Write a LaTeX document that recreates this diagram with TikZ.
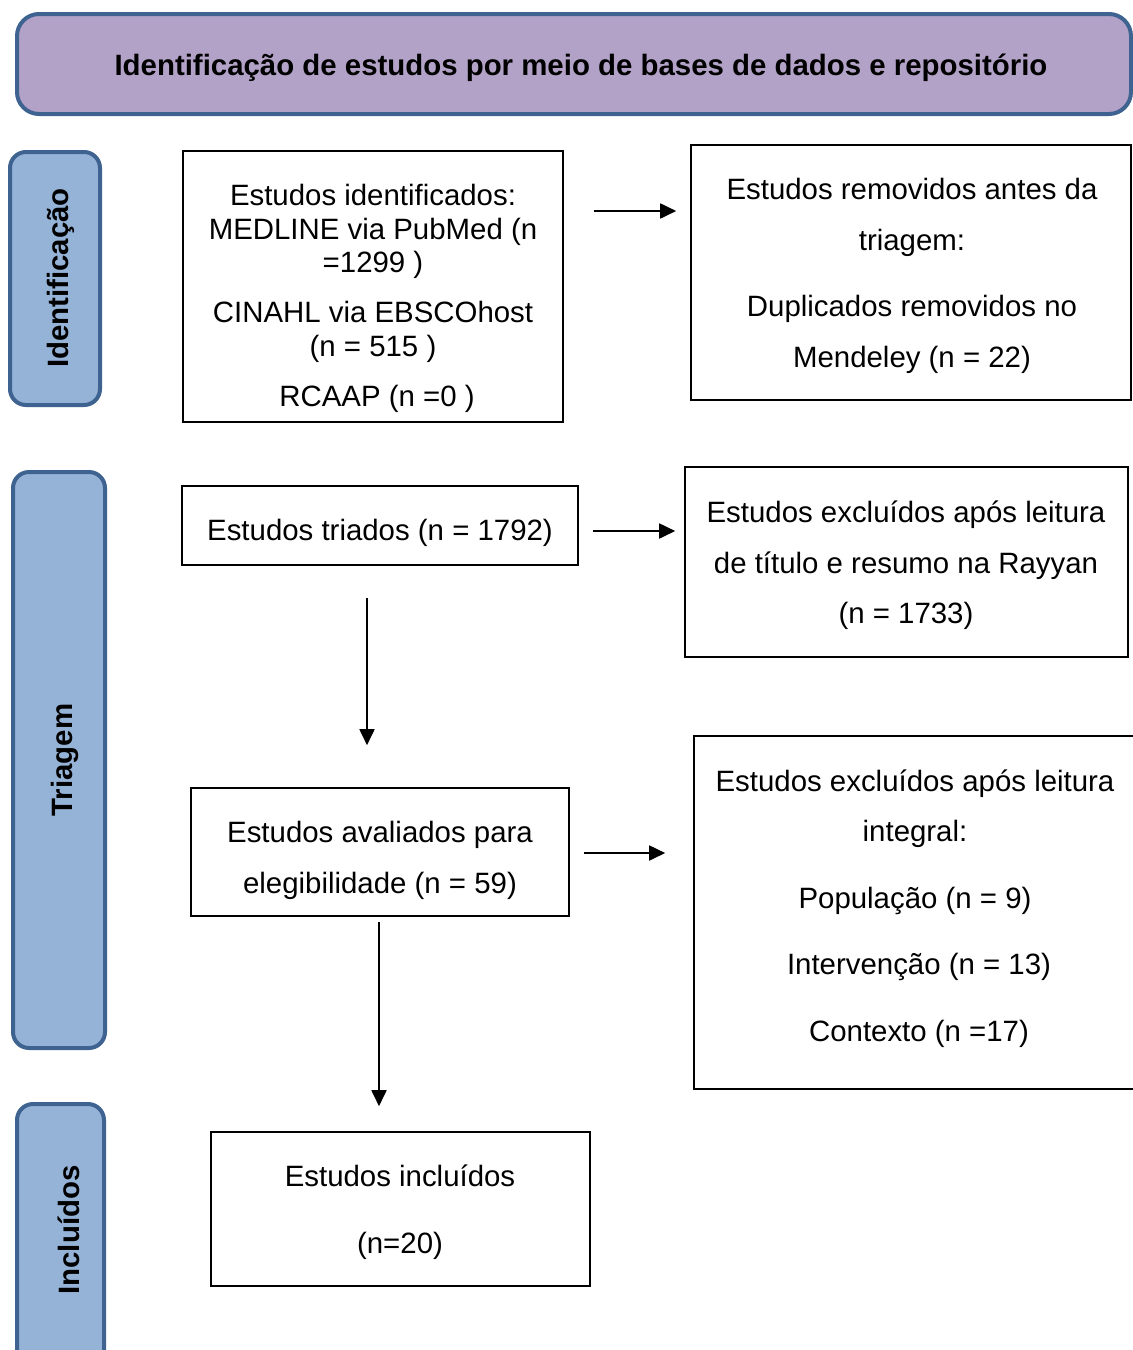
\documentclass[tikz,border=0pt]{standalone}
\usepackage{fontspec}
\setmainfont{Liberation Sans}
\usetikzlibrary{arrows.meta}
\definecolor{purp}{HTML}{B3A2C7}
\definecolor{blu}{HTML}{95B3D7}
\definecolor{edgeblue}{HTML}{3F6391}
\begin{document}
\begin{tikzpicture}[x=1pt,y=-1pt,
  box/.style={draw=black,line width=1.6pt,inner sep=0pt},
  lab/.style={draw=edgeblue,fill=blu,line width=4pt,rounded corners=16pt,inner sep=0pt},
  ban/.style={draw=edgeblue,fill=purp,line width=4pt,rounded corners=22pt,inner sep=0pt},
  txt/.style={font=\fontsize{29.4}{34}\selectfont,inner sep=0pt,anchor=base},
  labtxt/.style={font=\fontsize{29.4}{34}\selectfont\bfseries,inner sep=0pt,rotate=90},
  arr/.style={line width=1.8pt,-{Triangle[length=16pt,width=15pt]}}]
\useasboundingbox (0,0) rectangle (1133,1350);
\clip (0,0) rectangle (1133,1350);
% banner
\node[ban,minimum width=1114pt,minimum height=100pt] (ban) at (574,64) {};
\node[txt,font=\fontsize{29.4}{34}\selectfont\bfseries] (bant) at (581,75) {Identificação de estudos por meio de bases de dados e repositório};
% side labels
\node[lab,minimum width=90pt,minimum height=253pt] (L1) at (55,278.5) {};
\node[labtxt] (L1t) at (61,278) {Identificação};
\node[lab,minimum width=92pt,minimum height=576pt] (L2) at (59,760) {};
\node[labtxt] (L2t) at (65,760) {Triagem};
\node[lab,minimum width=87pt,minimum height=266pt] (L3) at (60.5,1237) {};
\node[labtxt] (L3t) at (69,1230) {Incluídos};
% boxes
\node[box,minimum width=380pt,minimum height=271pt] (A) at (373,286.5) {};
\node[box,minimum width=440pt,minimum height=255pt] (B) at (911,272.5) {};
\node[box,minimum width=396pt,minimum height=79pt] (C) at (380,525.5) {};
\node[box,minimum width=443pt,minimum height=190pt] (D) at (906.5,562) {};
\node[box,minimum width=378pt,minimum height=128pt] (E) at (380,852) {};
\node[box,minimum width=456pt,minimum height=353pt] (F) at (922,912.5) {};
\node[box,minimum width=379pt,minimum height=154pt] (G) at (400.5,1209) {};
% texts A
\node[txt] (a1) at (373,205) {Estudos identificados:};
\node[txt] (a2) at (373,239) {MEDLINE via PubMed (n};
\node[txt] (a3) at (373,272) {=1299 )};
\node[txt] (a4) at (373,322) {CINAHL via EBSCOhost};
\node[txt] (a5) at (373,356) {(n = 515 )};
\node[txt] (a6) at (377,406) {RCAAP (n =0 )};
% texts B
\node[txt] (b1) at (912,199) {Estudos removidos antes da};
\node[txt] (b2) at (912,250) {triagem:};
\node[txt] (b3) at (912,316) {Duplicados removidos no};
\node[txt] (b4) at (912,367) {Mendeley (n = 22)};
% text C
\node[txt] (c1) at (380,540) {Estudos triados (n = 1792)};
% texts D
\node[txt] (d1) at (906,522) {Estudos excluídos após leitura};
\node[txt] (d2) at (906,573) {de título e resumo na Rayyan};
\node[txt] (d3) at (906,623) {(n = 1733)};
% texts E
\node[txt] (e1) at (380,842) {Estudos avaliados para};
\node[txt] (e2) at (380,893) {elegibilidade (n = 59)};
% texts F
\node[txt] (f1) at (915,791) {Estudos excluídos após leitura};
\node[txt] (f2) at (915,841) {integral:};
\node[txt] (f3) at (915,908) {População (n = 9)};
\node[txt] (f4) at (919,974) {Intervenção (n = 13)};
\node[txt] (f5) at (919,1041) {Contexto (n =17)};
% texts G
\node[txt] (g1) at (400,1186) {Estudos incluídos};
\node[txt] (g2) at (400,1253) {(n=20)};
% arrows
\draw[arr] ([shift={(30,-75.5)}]A.east) -- ([shift={(-14,-61.5)}]B.west);
\draw[arr] ([shift={(14,5.5)}]C.east) -- ([shift={(-9,-31)}]D.west);
\draw[arr] ([shift={(-13,32)}]C.south) -- ([shift={(-13,-42)}]E.north);
\draw[arr] ([shift={(14,1)}]E.east) -- ([shift={(-28,-59.5)}]F.west);
\draw[arr] ([shift={(-1,5)}]E.south) -- ([shift={(-21.5,-25)}]G.north);
\end{tikzpicture}
\end{document}
